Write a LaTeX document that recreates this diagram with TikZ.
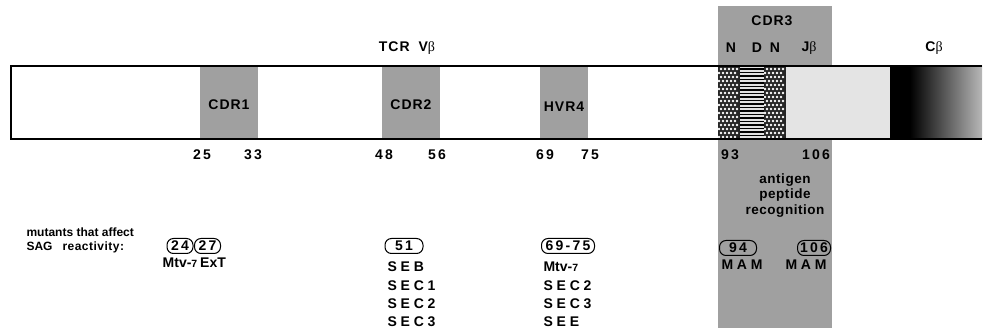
\documentclass[tikz,border=0pt]{standalone}
\usepackage{fontspec}
\setmainfont{Liberation Sans}[LetterSpace=7]
\newfontfamily\widefont{Liberation Sans}[LetterSpace=27]
\newfontfamily\numfont{Liberation Sans}[LetterSpace=16]
\newfontfamily\plainfont{Liberation Sans}[LetterSpace=0]
\newfontfamily\agfont{Liberation Sans}[LetterSpace=4]
\newfontfamily\symfont{Liberation Serif}
\usetikzlibrary{patterns, positioning}
\definecolor{mShade}{HTML}{A0A0A0}
\definecolor{mPale}{HTML}{E4E4E4}
\newcommand{\bet}{{\symfont\mdseries β}}
\newcommand{\sev}{{\fontsize{10.5}{12}\selectfont 7}}

\begin{document}
\begin{tikzpicture}[x=1pt, y=-1pt, font=\bfseries\fontsize{14}{16}\selectfont,
    res/.style={draw, line width=1pt, rounded corners=6.5pt, inner xsep=1pt,
      inner ysep=0pt, minimum height=15pt, font=\bfseries\numfont\fontsize{14}{16}\selectfont},
    num/.style={font=\bfseries\numfont\fontsize{14}{16}\selectfont},
    ag/.style={font=\bfseries\agfont\fontsize{13.5}{15}\selectfont},
    sag/.style={anchor=west, font=\bfseries\widefont\fontsize{14}{16}\selectfont},
    mtv/.style={font=\bfseries\plainfont\fontsize{14}{16}\selectfont}]
  \useasboundingbox (0,0) rectangle (983,328);
  % grey column of CDR3 and the three loops
  \fill[mShade] (718,6) rectangle (832,328);
  \fill[white] (11,66) rectangle (718,139);
  \foreach \a/\b in {200/258, 382/440, 540/588}
    \fill[mShade] (\a,66) rectangle (\b,139);
  % N D N J C segments
  \foreach \a in {718, 764} {
    \fill[black!85] (\a,66) rectangle (\a+22,139);
    \foreach \yy [count=\k] in {69,73,...,137}
      \foreach \xx in {2,6,...,21}
        \fill[white] ({\a+\xx+2*mod(\k,2)-1},\yy) circle (1.35);
  }
  \fill[black!12] (740,66) rectangle (764,139);
  \foreach \yy in {69,72.5,...,137}
    \draw[line width=1.3pt] (740,\yy) -- (764,\yy);
  \fill[mPale] (786,66) rectangle (890,139);
  \fill[black] (890,66) rectangle (910,139);
  \shade[left color=black, right color=black!28] (910,66) rectangle (982,139);
  \draw[line width=1.3pt] (982,66) -- (11,66) -- (11,139) -- (982,139);

  \node (tcr) at (407,48) {TCR\hspace{9pt}V\bet};
  \node (cdr3) at (772,21) {CDR3};
  \node (nl) at (731,48) {N};
  \node (dd) at (757,48) {D};
  \node (nr) at (775,48) {N};
  \node (jb) at (809,48) {J\bet};
  \node (cb) at (934,48) {C\bet};
  \node (cdr1) at (229,105) {CDR1};
  \node (cdr2) at (411,105) {CDR2};
  \node (hvr4) at (564,107) {HVR4};

  \foreach \n/\x in {25/202, 33/253, 48/384, 56/437, 69/545, 75/590, 93/730, 106/816}
    \node[num] (pos\n) at (\x,155) {\n};
  \node[ag] (ag1) at (785,180) {antigen};
  \node[ag] (ag2) at (785,195) {peptide};
  \node[ag] (ag3) at (785,211) {recognition};

  \node[anchor=west, font=\bfseries\plainfont\fontsize{12}{14}\selectfont] (mut1) at (23,232)
    {mutants that affect};
  \node[anchor=west, font=\bfseries\plainfont\fontsize{12}{14}\selectfont] (mut2) at (23,247)
    {SAG\hspace{10pt}{\agfont reactivity:}};

  \node[res, minimum width=26pt] (r24) at (180,246) {24};
  \node[res, minimum width=26pt] (r27) at (207.5,246) {27};
  \node[mtv] (m24) at (180,263) {Mtv-\sev};
  \node[mtv] (m27) at (213,263) {ExT};
  \node[res, minimum width=38pt] (r51) at (404,246) {51};
  \node[res, minimum width=53pt] (r69) at (568,246) {69-75};
  \foreach \t [count=\i from 0] in {SEB, SEC1, SEC2, SEC3}
    \node[sag] (sa\i) at (384,267+\i*18.3) {\t};
  \node[mtv, anchor=west] (sb0) at (540,267) {Mtv-\sev};
  \foreach \t [count=\i from 1] in {SEC2, SEC3, SEE}
    \node[sag] (sb\i) at (540,267+\i*18.3) {\t};
  \node[res, minimum width=37pt] (r94) at (738,248) {94};
  \node[res, minimum width=33pt] (r106) at (814,248) {106};
  \node[sag, anchor=west] (mam1) at (718,265) {MAM};
  \node[sag, anchor=west] (mam2) at (782,265) {MAM};
\end{tikzpicture}
\end{document}
